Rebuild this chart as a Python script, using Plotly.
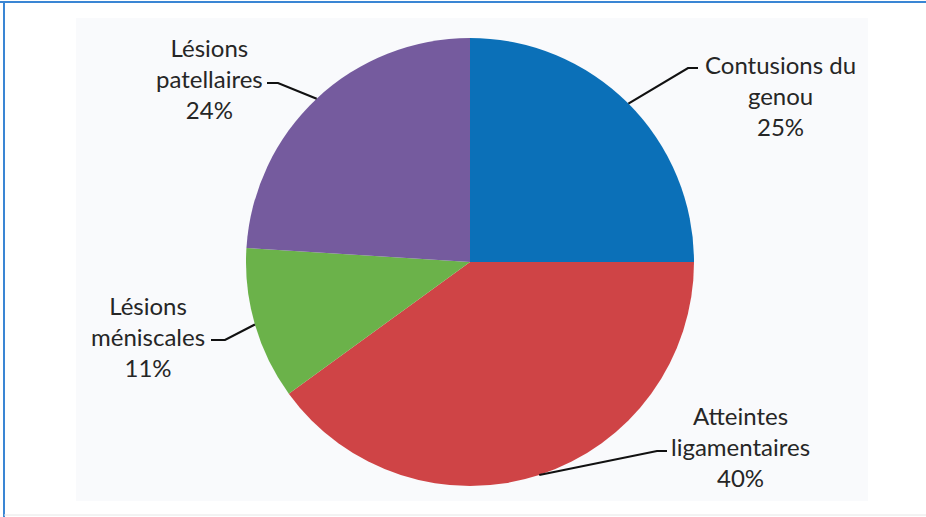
import math
import plotly.graph_objects as go

W, H = 926, 517

labels = ["Contusions du genou", "Atteintes ligamentaires", "Lésions méniscales", "Lésions patellaires"]
label_lines = [["Contusions du", "genou"], ["Atteintes", "ligamentaires"], ["Lésions", "méniscales"], ["Lésions", "patellaires"]]
values = [25, 40, 11, 24]
colors = ["#0b70b8", "#cf4446", "#6bb24a", "#755b9e"]

# layout (pixels)
cx, cy, R = 470, 262, 224
# elbow / end of leader lines, and text centre (pixels)
elbows = [(688, 68), (657, 451), (225, 340), (278, 83)]
ends = [(698, 68), (667, 451), (211, 340), (267, 83)]
text_pos = [(780, 95), (740, 446), (148, 336), (209, 78)]

def px(x):
    return x / W

def py(y):
    return 1 - y / H

fig = go.Figure(go.Pie(
    labels=labels, values=values, sort=False, direction="clockwise", rotation=0,
    marker=dict(colors=colors, line=dict(width=0)),
    textinfo="none", hoverinfo="label+percent", showlegend=False,
    domain=dict(x=[px(cx - R), px(cx + R)], y=[py(cy + R), py(cy - R)]),
))

shapes = [
    dict(type="rect", xref="paper", yref="paper", x0=px(76), x1=px(868), y0=py(501), y1=py(18),
         fillcolor="#f9fafc", line=dict(width=0), layer="below"),
    dict(type="line", xref="paper", yref="paper", x0=0, x1=1, y0=py(2), y1=py(2),
         line=dict(color="#3a86d4", width=2)),
    dict(type="line", xref="paper", yref="paper", x0=px(4), x1=px(4), y0=py(2), y1=py(517),
         line=dict(color="#3a86d4", width=2)),
    dict(type="line", xref="paper", yref="paper", x0=px(4), x1=1, y0=py(515), y1=py(515),
         line=dict(color="#e6e6e6", width=1)),
]

annotations = []
total = sum(values)
cum = 0
for i, v in enumerate(values):
    mid = (cum + v / 2) / total * 2 * math.pi
    cum += v
    sx = cx + R * math.sin(mid)
    sy = cy - R * math.cos(mid)
    ex, ey = elbows[i]
    tx, ty = ends[i]
    shapes.append(dict(type="path", xref="paper", yref="paper",
                       path=f"M {px(sx)},{py(sy)} L {px(ex)},{py(ey)} L {px(tx)},{py(ty)}",
                       line=dict(color="#111111", width=2.2)))
    pct = round(v / total * 100)
    txt = "<br>".join(label_lines[i] + [f"{pct}%"])
    lx, ly = text_pos[i]
    annotations.append(dict(x=px(lx), y=py(ly), xref="paper", yref="paper", text=txt,
                            showarrow=False, xanchor="center", yanchor="middle", align="center",
                            font=dict(family="Lato", size=24, color="#262626")))

fig.update_layout(
    width=W, height=H, margin=dict(l=0, r=0, t=0, b=0),
    paper_bgcolor="white", plot_bgcolor="white",
    shapes=shapes, annotations=annotations,
)

fig.write_html("out.html")
